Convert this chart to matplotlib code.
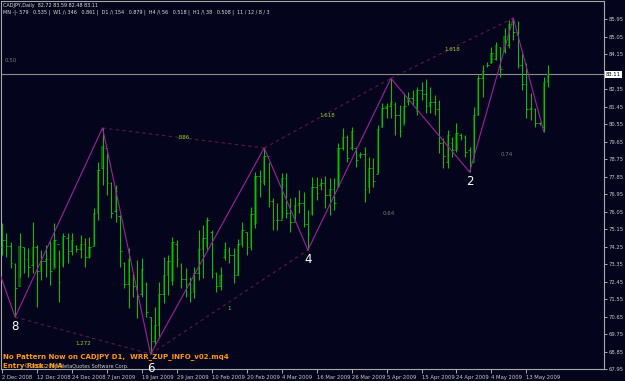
import matplotlib
matplotlib.use('Agg')
import matplotlib.pyplot as plt
import numpy as np

# CADJPY daily bars, 2 Dec 2008 .. ~20 May 2009
highs = [75.46, 74.94, 74.48, 73.40, 74.94, 74.22, 74.17, 75.51, 74.33, 74.07,
         74.33, 74.58, 75.46, 74.07, 74.94, 74.94, 74.94, 74.33, 74.84, 74.69,
         74.74, 76.23, 78.60, 80.35, 79.21, 77.57, 77.41, 75.87, 73.45, 74.17,
         72.89, 73.56, 73.66, 72.42, 70.62, 71.14, 72.42, 73.71, 73.81, 74.74,
         74.58, 73.40, 73.14, 72.68, 73.20, 75.10, 75.36, 75.77, 75.10, 72.94,
         73.20, 74.48, 74.22, 74.17, 74.64, 75.51, 74.99, 76.28, 78.08, 78.18,
         79.32, 78.60, 76.74, 76.49, 78.03, 78.03, 76.74, 76.80, 77.16, 77.05,
         76.13, 77.82, 77.82, 77.77, 77.88, 77.77, 77.77, 79.57, 80.35, 79.99,
         80.40, 79.37, 79.11, 79.37, 78.85, 78.80, 80.50, 81.63, 81.63, 82.90,
         81.68, 81.53, 82.15, 82.20, 82.30, 82.45, 82.71, 82.85, 82.45, 82.04,
         81.79, 79.83, 80.24, 79.88, 80.60, 80.09, 79.99, 79.37, 81.43, 83.07,
         83.59, 83.74, 84.51, 84.77, 84.51, 85.49, 85.90, 86.00, 85.85, 84.20,
         83.69, 82.15, 81.37, 80.65, 82.97, 83.59]
lows = [73.81, 73.71, 73.14, 70.62, 72.68, 72.89, 72.68, 72.89, 71.14, 72.53,
        72.68, 72.27, 73.20, 71.40, 73.20, 73.40, 73.81, 73.97, 73.66, 73.20,
        73.66, 74.33, 75.61, 77.41, 76.90, 75.72, 75.51, 73.20, 72.11, 71.09,
        71.65, 70.57, 71.65, 70.62, 68.72, 69.18, 69.60, 71.34, 71.75, 72.27,
        73.20, 72.11, 71.65, 71.40, 71.60, 72.53, 72.63, 74.07, 72.63, 71.91,
        72.01, 73.56, 73.40, 72.37, 72.78, 74.22, 73.81, 74.07, 75.20, 76.80,
        77.41, 76.28, 75.10, 75.10, 75.72, 75.72, 74.99, 75.61, 75.97, 75.25,
        74.07, 75.87, 76.64, 77.16, 76.23, 75.87, 76.13, 77.31, 79.21, 78.60,
        79.21, 78.34, 78.80, 76.54, 77.00, 77.31, 78.03, 80.40, 80.86, 80.86,
        79.99, 79.88, 80.60, 81.53, 81.53, 81.01, 81.79, 81.12, 81.12, 81.01,
        79.06, 78.29, 78.29, 78.85, 79.11, 79.73, 78.85, 78.08, 78.85, 81.01,
        81.94, 83.48, 83.69, 83.84, 82.97, 84.20, 84.46, 84.87, 83.43, 82.30,
        80.86, 80.76, 80.40, 80.50, 80.14, 82.48]
opens = [74.2, 74.6, 74.3, 73.35, 72.2, 74.2, 73.6, 73.3, 74.2, 73.0,
         73.5, 73.6, 73.1, 74.4, 73.3, 74.7, 74.0, 74.3, 74.1, 74.4,
         73.7, 74.3, 76.0, 78.3, 79.3, 77.5, 76.1, 75.8, 73.4, 72.3,
         72.8, 72.2, 71.8, 72.3, 70.6, 69.4, 70.2, 71.8, 72.8, 72.5,
         74.4, 73.3, 72.6, 72.3, 71.9, 72.9, 74.1, 74.3, 75.0, 72.9,
         72.2, 73.7, 74.0, 73.8, 72.8, 74.4, 75.0, 74.2, 75.4, 77.9,
         77.5, 78.9, 76.6, 75.6, 75.6, 77.8, 76.0, 75.5, 76.4, 76.5,
         75.4, 75.9, 77.3, 77.4, 77.5, 76.9, 77.2, 77.3, 79.3, 79.9,
         79.3, 79.3, 78.9, 79.0, 77.3, 78.3, 78.0, 80.4, 81.4, 81.5,
         81.6, 81.0, 80.5, 81.7, 81.9, 81.2, 82.3, 82.1, 81.5, 81.7,
         81.3, 79.6, 78.6, 79.6, 79.2, 80.0, 79.9, 79.2, 78.6, 81.0,
         82.9, 83.6, 83.7, 83.9, 84.5, 84.3, 84.6, 85.7, 85.3, 83.6,
         82.6, 81.3, 81.3, 80.6, 80.4, 82.72]
closes = [74.6, 74.3, 73.4, 72.1, 74.3, 73.6, 73.2, 74.2, 73.0, 73.5,
          73.6, 73.0, 74.6, 72.4, 74.8, 74.0, 74.6, 74.1, 74.4, 73.7,
          74.2, 76.0, 78.2, 79.4, 77.5, 76.0, 77.1, 74.0, 72.3, 73.6,
          72.2, 71.7, 73.1, 70.9, 69.4, 70.2, 71.8, 72.8, 73.5, 74.5,
          73.6, 72.6, 72.3, 71.9, 72.9, 74.1, 74.7, 75.6, 73.1, 72.2,
          72.8, 74.1, 73.8, 72.8, 74.4, 75.1, 74.2, 75.9, 77.9, 77.6,
          78.9, 76.6, 75.6, 75.6, 77.8, 76.0, 75.5, 76.4, 76.5, 75.4,
          74.9, 77.3, 77.0, 77.5, 76.9, 77.2, 76.5, 79.3, 79.9, 78.8,
          80.2, 78.7, 79.0, 77.2, 78.3, 77.6, 80.3, 81.4, 81.5, 81.7,
          81.0, 80.2, 81.5, 81.9, 81.8, 82.3, 82.1, 81.5, 81.7, 81.3,
          79.6, 78.9, 80.0, 79.2, 80.1, 79.9, 79.1, 78.6, 81.0, 82.9,
          83.3, 83.6, 84.2, 84.6, 83.4, 85.1, 85.7, 85.3, 83.6, 82.6,
          81.3, 81.4, 80.6, 80.6, 82.7, 83.11]

date_ticks = list(range(0, 121, 8))
date_labels = ["2 Dec 2008", "12 Dec 2008", "24 Dec 2008", "7 Jan 2009",
               "19 Jan 2009", "29 Jan 2009", "10 Feb 2009", "20 Feb 2009",
               "4 Mar 2009", "16 Mar 2009", "26 Mar 2009", "5 Apr 2009",
               "15 Apr 2009", "24 Apr 2009", "4 May 2009", "13 May 2009"]

# zigzag pivots (bar index, 'H'/'L'); first point comes from off-screen
zz_lead = (-10, 78.9)
zz_pivots = [(3, 'L'), (23, 'H'), (34, 'L'), (60, 'H'), (70, 'L'),
             (89, 'H'), (107, 'L'), (117, 'H'), (124, 'L')]
# wave number -> (bar, offset below the low in points)
wave_names = {3: ('8', -6.5), 34: ('6', -10.5), 70: ('4', -6.5), 107: ('2', -6.5)}
# ratio lines between pivots: (from, to, text, drawn, colour, y offset pt)
ratios = [(3, 34, '1.272', True, '#9ccd30', -5.5),
          (23, 60, '.886', True, '#9ccd30', 0),
          (34, 70, '1', True, '#9ccd30', -5),
          (60, 89, '1.618', True, '#9ccd30', -1.5),
          (89, 117, '1.618', True, '#9ccd30', -1),
          (70, 107, '0.64', False, '#7a7a7a', -2),
          (107, 124, '0.74', False, '#7a7a7a', -2)]
last_price = 83.11

BG = '#04041c'
FG = '#c8c8c8'

fig = plt.figure(figsize=(6.25, 3.81), dpi=100, facecolor=BG)
ax = fig.add_axes([1.5 / 625, 12 / 381, 602.5 / 625, 368 / 381])
ax.set_facecolor(BG)

x = np.arange(len(highs))
o = np.array(opens)
c = np.array(closes)
up = c > o

# bodies of rising bars, then the bars themselves
ax.bar(x[up], (c - o)[up], bottom=o[up], width=0.5, color='#006000', zorder=2)
ax.vlines(x, lows, highs, color='#00c400', lw=0.75, zorder=3)
ax.hlines(o, x - 0.35, x, color='#00c400', lw=0.6, zorder=3)
ax.hlines(c, x, x + 0.35, color='#00c400', lw=0.6, zorder=3)


def pivot_price(i, kind):
    return highs[i] if kind == 'H' else lows[i]


zx = [zz_lead[0]] + [p[0] for p in zz_pivots]
zy = [zz_lead[1]] + [pivot_price(i, k) for i, k in zz_pivots]
ax.plot(zx, zy, color='#a0209c', lw=0.8, zorder=4)

kinds = dict(zz_pivots)
for a, b, txt, drawn, col, dy in ratios:
    ya = pivot_price(a, kinds[a])
    yb = pivot_price(b, kinds[b])
    if drawn:
        ax.plot([a, b], [ya, yb], color='#5e1846', lw=0.8,
                linestyle=(0, (3, 3)), zorder=1)
    ax.annotate(txt, ((a + b) / 2, (ya + yb) / 2), xytext=(0, dy),
                textcoords='offset points', ha='center', va='center',
                fontsize=4, color=col, zorder=5)
ax.text(2, 83.84, '0.50', fontsize=4, color='#7a7a7a', ha='center', va='center')

for i, (name, dy) in wave_names.items():
    ax.annotate(name, (i, lows[i]), xytext=(0, dy), textcoords='offset points',
                ha='center', va='center', fontsize=8.5, color='white',
                annotation_clip=False, zorder=6)

ax.axhline(last_price, color='#8c8c8c', lw=0.8, zorder=1)

ax.set_xlim(-0.12, 137.76)
ax.set_ylim(67.95, 86.88)

levels = [round(67.95 + 0.9 * k, 2) for k in range(21)]
levels = [v for v in levels if abs(v - last_price) > 0.3]
ax.yaxis.tick_right()
ax.set_yticks(levels)
ax.set_yticklabels([f"{v:.2f}" for v in levels])
ax.tick_params(axis='y', colors=FG, labelsize=3.8, length=2, width=0.6, pad=1.2)
ax.set_xticks(date_ticks)
ax.set_xticklabels(date_labels, ha='left')
ax.tick_params(axis='x', colors=FG, labelsize=3.8, length=3, width=0.6, pad=1.2)
for s in ax.spines.values():
    s.set_color('#a8a8a8')
    s.set_linewidth(0.8)

ax.text(1.003, last_price, f"{last_price:.2f}", transform=ax.get_yaxis_transform(),
        ha='left', va='center', fontsize=3.8, color='black',
        bbox=dict(facecolor='white', edgecolor='none', pad=0.6))

hdr = 'CADJPY,Daily  82.72 83.59 82.48 83.11'
hdr2 = ('MN -|- 579   0.535 |  W1 /\\ 346   0.861 |  D1 /\\ 154   0.879 |  '
        'H4 /\\ 56   0.518 |  H1 /\\ 38   0.508 |  11 / 12 / 8 / 3')
fig.text(3 / 625, 1 - 5 / 381, hdr, fontsize=3.5, color='#e0e0e0', va='center')
fig.text(3 / 625, 1 - 12 / 381, hdr2, fontsize=3.5, color='#e0e0e0', va='center')

fig.text(3 / 625, 1 - 357 / 381, 'No Pattern Now on CADJPY D1,  WRR_ZUP_INFO_v02.mq4',
         fontsize=5.0, weight='bold', color='#ff9a00', va='center')
fig.text(24 / 625, 1 - 366 / 381, '\u00a9 2001-2009 MetaQuotes Software Corp.',
         fontsize=3.6, color='#d0d0d0', va='center')
fig.text(3 / 625, 1 - 366 / 381, 'Entry Risk: N/A',
         fontsize=5.0, weight='bold', color='#ff9a00', va='center')

fig.savefig('out.png', dpi=100, facecolor=BG)
